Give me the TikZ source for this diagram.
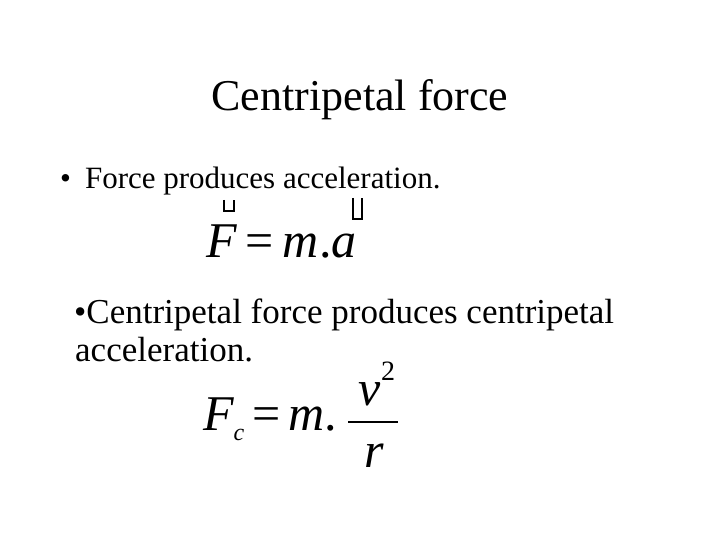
\documentclass[tikz,border=0pt]{standalone}
\usepackage{fontspec}
\setmainfont{Liberation Serif}
\begin{document}
\begin{tikzpicture}[x=1pt,y=1pt,
  txt/.style={inner sep=0pt,anchor=base west},
  mth/.style={inner sep=0pt,anchor=base west,font=\fontsize{50}{54}\selectfont},
  vecmark/.style={line width=2.2pt}]
\useasboundingbox (0,0) rectangle (720,-540);
\node[txt,anchor=base,font=\fontsize{44}{48}\selectfont] (title) at (360,-111) {Centripetal force};
\node[txt,font=\fontsize{31}{36}\selectfont] (b1) at (60,-189) {•\hspace{14pt}Force produces acceleration.};
\node[mth] (eq1) at (206,-257) {\itshape F\upshape\hspace{9pt}=\hspace{9pt}\itshape m\upshape .\itshape a};
\draw[vecmark] (224,-200) -- (224,-211) -- (234,-211) -- (234,-200);
\draw[vecmark] (353,-198) -- (353,-219) -- (362,-219) -- (362,-198);
\node[txt,font=\fontsize{35}{40}\selectfont] (b2) at (74,-323) {•Centripetal force produces centripetal};
\node[txt,font=\fontsize{35}{40}\selectfont] (b3) at (75,-361) {acceleration.};
\node[mth] (eq2) at (203,-430) {\itshape F\raisebox{-10pt}{\fontsize{24}{26}\selectfont c}\upshape\hspace{8pt}=\hspace{8pt}\itshape m\upshape .};
\node[mth,anchor=base] (v) at (370,-405) {\itshape v};
\node[txt,font=\fontsize{28}{30}\selectfont] (sq) at (381,-380) {2};
\draw[line width=1.4pt] (348,-422) -- (398,-422);
\node[mth,anchor=base] (r) at (374,-467) {\itshape r};
\end{tikzpicture}
\end{document}
